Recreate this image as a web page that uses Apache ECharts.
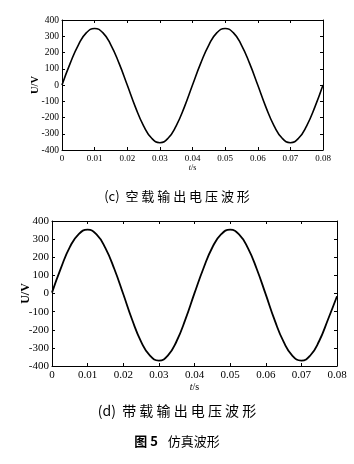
<!DOCTYPE html>
<html>
<head>
<meta charset="utf-8">
<script src="https://cdn.jsdelivr.net/npm/echarts@6/dist/echarts.min.js"></script>
<style>
  html, body { margin: 0; padding: 0; background: #fff; }
  #main { width: 354px; height: 464px; }
</style>
</head>
<body>
<div id="main"></div>
<script>
// time samples (s)
var timeS = [0, 0.0025, 0.005, 0.0075, 0.01, 0.0125, 0.015, 0.0175, 0.02, 0.0225, 0.025, 0.0275, 0.03, 0.0325, 0.035, 0.0375,
    0.04, 0.0425, 0.045, 0.0475, 0.05, 0.0525, 0.055, 0.0575, 0.06, 0.0625, 0.065, 0.0675, 0.07, 0.0725, 0.075, 0.0775, 0.08];
// (c) no-load output voltage (V)
var uNoLoad = [0, 133, 246, 322, 348, 322, 246, 133, 0, -136, -251, -328, -355, -328, -251, -136,
    0, 133, 246, 322, 348, 322, 246, 133, 0, -136, -251, -328, -355, -328, -251, -136, 0];
// (d) loaded output voltage (V)
var uLoad = [5, 140, 256, 328, 352, 326, 250, 135, -3, -145, -265, -343, -370, -343, -262, -140,
    2, 138, 254, 327, 352, 326, 250, 134, -5, -147, -266, -344, -370, -342, -262, -142, -15];

var xMin = 0, xMax = 0.08, xStep = 0.01;
var yMin = -400, yMax = 400, yStep = 100;

var captionC = '(c)  空 载 输 出 电 压 波 形';
var captionD = '(d)  带 载 输 出 电 压 波 形';

var serif = '"Liberation Serif", "DejaVu Serif", serif';
var cjk = '"Noto Sans CJK SC", sans-serif';

function zip(xs, ys) {
    var out = [];
    for (var i = 0; i < xs.length; i++) out.push([xs[i], ys[i]]);
    return out;
}

function fmtX(v) {
    return Math.abs(v) < 1e-9 ? '0' : v.toFixed(2);
}

function makeX(gridIndex, pos, showLabel, fontSize) {
    return {
        type: 'value', gridIndex: gridIndex, position: pos,
        min: xMin, max: xMax, interval: xStep,
        name: showLabel ? '{i|t}/s' : '',
        nameLocation: 'middle', nameGap: fontSize + 4,
        nameTextStyle: {
            color: '#000', fontFamily: serif, fontSize: fontSize - 1,
            rich: { i: { fontStyle: 'italic', fontFamily: serif, fontSize: fontSize - 1, color: '#000' } }
        },
        axisLine: { show: true, onZero: false, lineStyle: { color: '#000', width: 1 } },
        axisTick: { show: true, inside: true, length: 3, lineStyle: { color: '#000' } },
        axisLabel: { show: showLabel, margin: 4, color: '#000', fontFamily: serif, fontSize: fontSize, formatter: fmtX },
        splitLine: { show: false }
    };
}

function makeY(gridIndex, pos, showLabel, fontSize, nameGap) {
    return {
        type: 'value', gridIndex: gridIndex, position: pos,
        min: yMin, max: yMax, interval: yStep,
        name: showLabel ? 'U/V' : '',
        nameLocation: 'middle', nameGap: nameGap, nameMoveOverlap: false,
        nameTextStyle: { color: '#000', fontFamily: serif, fontSize: fontSize + 1, fontWeight: 'bold' },
        axisLine: { show: true, onZero: false, lineStyle: { color: '#000', width: 1 } },
        axisTick: { show: true, inside: true, length: 3, lineStyle: { color: '#000' } },
        axisLabel: { show: showLabel, margin: 3, color: '#000', fontFamily: serif, fontSize: fontSize },
        splitLine: { show: false }
    };
}

var chart = echarts.init(document.getElementById('main'), null, { renderer: 'canvas' });

chart.setOption({
    backgroundColor: '#fff',
    animation: false,
    grid: [
        { left: 62, right: 31, top: 20, height: 130 },
        { left: 52, right: 17, top: 221, height: 145 }
    ],
    xAxis: [
        makeX(0, 'bottom', true, 9),
        makeX(0, 'top', false, 9),
        makeX(1, 'bottom', true, 11),
        makeX(1, 'top', false, 11)
    ],
    yAxis: [
        makeY(0, 'left', true, 9.5, 21),
        makeY(0, 'right', false, 9.5, 0),
        makeY(1, 'left', true, 11, 20),
        makeY(1, 'right', false, 11, 0)
    ],
    series: [
        {
            name: '空载', type: 'line', xAxisIndex: 0, yAxisIndex: 0,
            data: zip(timeS, uNoLoad), smooth: true, symbol: 'none',
            lineStyle: { color: '#000', width: 1.6 }
        },
        {
            name: '带载', type: 'line', xAxisIndex: 2, yAxisIndex: 2,
            data: zip(timeS, uLoad), smooth: true, symbol: 'none',
            lineStyle: { color: '#000', width: 1.8 }
        }
    ],
    graphic: [
        {
            type: 'text', left: 'center', top: 190,
            style: { text: captionC, font: '13px ' + cjk, fill: '#000' }
        },
        {
            type: 'text', left: 'center', top: 404,
            style: { text: captionD, font: '14px ' + cjk, fill: '#000' }
        },
        {
            type: 'text', left: 'center', top: 435,
            style: {
                text: '{b|图 5}   {n|仿真波形}',
                rich: {
                    b: { font: 'bold 13px ' + cjk, fill: '#000' },
                    n: { font: '13px ' + cjk, fill: '#000' }
                }
            }
        }
    ]
});
</script>
</body>
</html>
